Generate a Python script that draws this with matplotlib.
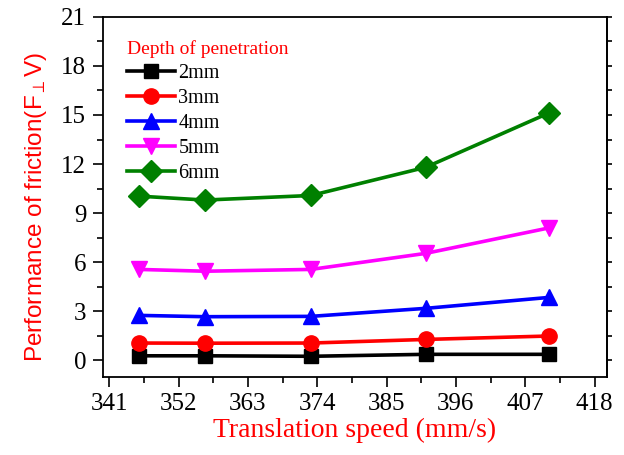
import matplotlib
matplotlib.use("Agg")
import matplotlib.pyplot as plt
from matplotlib.ticker import MultipleLocator

# translation speed (mm/s)
speed = [345.7, 356.2, 373.0, 391.2, 410.8]

# friction performance for each penetration depth
depth_labels = ["2mm", "3mm", "4mm", "5mm", "6mm"]
f_2mm = [0.28, 0.28, 0.25, 0.37, 0.37]
f_3mm = [1.06, 1.05, 1.06, 1.28, 1.49]
f_4mm = [2.75, 2.67, 2.69, 3.18, 3.85]
f_5mm = [5.56, 5.45, 5.56, 6.54, 8.10]
f_6mm = [10.04, 9.80, 10.08, 11.80, 15.13]

series = [f_2mm, f_3mm, f_4mm, f_5mm, f_6mm]
colors = ["black", "red", "blue", "magenta", "green"]
markers = ["s", "o", "^", "v", "D"]
msizes = [10, 11, 12, 12, 11]

serif = "Liberation Serif"
plt.rcParams["font.family"] = serif
plt.rcParams["mathtext.fontset"] = "custom"
plt.rcParams["mathtext.rm"] = "Liberation Sans"
plt.rcParams["mathtext.it"] = "Liberation Sans"

fig = plt.figure(figsize=(6.24, 4.55), dpi=100)
ax = fig.add_axes([0.165, 0.172, 0.808, 0.791])

for vals, lab, c, m, ms in zip(series, depth_labels, colors, markers, msizes):
    ax.plot(speed, vals, color=c, marker=m, markersize=ms, lw=2.6, label=lab)

ax.set_xlim(340, 420)
ax.set_ylim(-1, 21)
ax.xaxis.set_minor_locator(MultipleLocator(5.5))
ax.set_xticks(range(341, 419, 11))
ax.yaxis.set_minor_locator(MultipleLocator(1.5))
ax.set_yticks(range(0, 22, 3))

ax.tick_params(which="major", direction="out", length=7, width=1.2,
               labelsize=18, pad=5)
ax.tick_params(which="minor", direction="out", length=4, width=1.2)

# short ticks along the right edge
sec = ax.secondary_yaxis("right")
sec.yaxis.set_major_locator(MultipleLocator(1.5))
sec.tick_params(direction="out", length=3.5, width=1.2, labelright=False)

for sp in ax.spines.values():
    sp.set_linewidth(1.3)
sec.spines["right"].set_linewidth(1.3)

ax.set_xlabel("Translation speed (mm/s)", color="red", fontsize=20, labelpad=2)
ax.set_ylabel(r"Performance of friction(F$_{\perp}$V)", color="red",
              fontsize=17.5, family="Liberation Sans")
ax.yaxis.set_label_coords(-0.108, 0.47)

leg = ax.legend(title="Depth of penetration", loc="upper left",
                frameon=False, fontsize=14.5, title_fontsize=14,
                handlelength=2.4, handletextpad=0.15, labelspacing=0.29,
                borderaxespad=0.6, bbox_to_anchor=(0.008, 0.99))
leg.get_title().set_color("red")
leg._legend_box.align = "left"

fig.savefig("out.png", dpi=100)
